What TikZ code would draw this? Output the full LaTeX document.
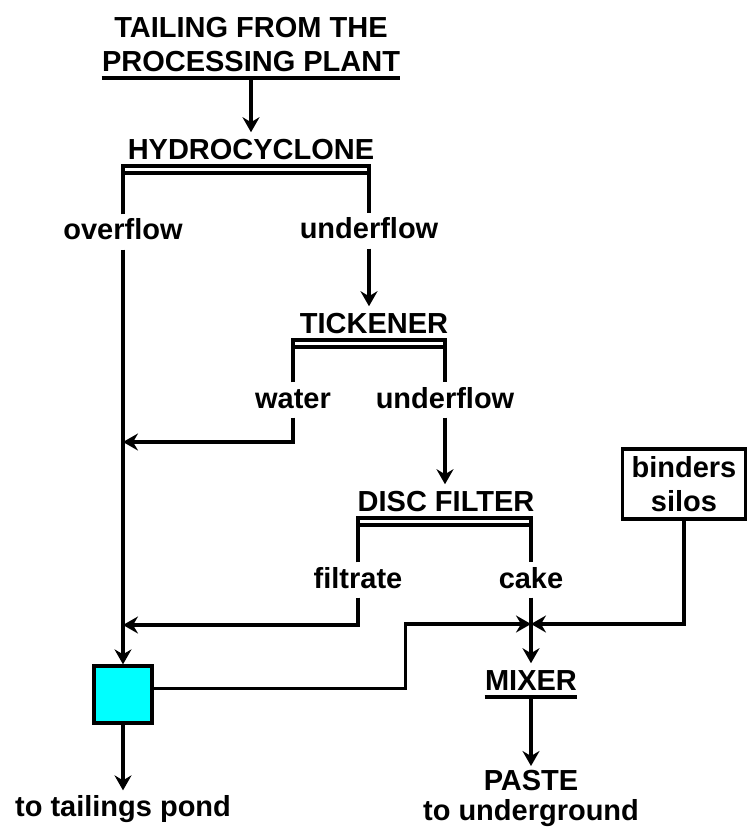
\documentclass[tikz,border=0pt]{standalone}
\usepackage{fontspec}
\setmainfont{Liberation Sans}
\usetikzlibrary{arrows.meta,calc}
\definecolor{tankcyan}{RGB}{0,255,255}

\begin{document}
\begin{tikzpicture}[x=0.02cm, y=-0.02cm,
  every node/.style={font=\fontsize{16.5}{19.3}\selectfont\bfseries},
  unit/.style={inner xsep=0pt, inner ysep=0.12cm, text height=12pt, text depth=0pt, anchor=south},
  lbl/.style={inner sep=2pt, text height=12.4pt, text depth=3.3pt},
  line/.style={line width=1.9pt},
  arr/.style={line, -{Stealth[length=0.3cm, width=0.34cm, inset=0.1cm]}},
  tank/.style={draw, line width=1.9pt, fill=tankcyan, minimum width=1.16cm, minimum height=1.14cm},
  silo/.style={draw, line width=1.9pt, minimum width=2.46cm, minimum height=1.4cm, align=center}
]
\useasboundingbox (0,0) rectangle (747,829);

% units
\node[inner xsep=0pt, inner ysep=0.12cm, anchor=south, align=center] (plant) at (251,78) {TAILING FROM THE\\PROCESSING PLANT};
\node[unit] (hydro) at (251,166) {HYDROCYCLONE};
\node[unit] (tick) at (374,340) {TICKENER};
\node[unit] (disc) at (446,518) {DISC FILTER};
\node[unit] (mixer) at (531,697) {MIXER};
\node[tank] (pond) at (123,694.5) {};
\node[silo] (silos) at (684,484) {binders\\silos};

% stream labels
\node[lbl] (overflow) at (123,232) {overflow};
\node[lbl] (underflowA) at (369,231) {underflow};
\node[lbl] (water) at (293,400) {water};
\node[lbl] (underflowB) at (445,400) {underflow};
\node[lbl] (filtrate) at (358,580) {filtrate};
\node[lbl] (cake) at (531,580) {cake};
\node[lbl] (tp) at (123,808) {to tailings pond};
\node[inner sep=2pt, align=center, anchor=north] (paste) at (531,766) {PASTE\\[-2pt]to underground};

\coordinate (wj) at (123,442);
\coordinate (fj) at (123,625);
\coordinate (mj) at (531,624);

% underlines and split bars
\draw[line] (plant.south west) -- (plant.south east);
\draw[line] (mixer.south west) -- (mixer.south east);
\draw[line] (overflow.north) -- (overflow.north |- hydro.south) -- (underflowA.north |- hydro.south) -- (underflowA.north);
\draw[line] ($(overflow.north |- hydro.south)+(0,7)$) -- ($(underflowA.north |- hydro.south)+(0,7)$);
\draw[line] (water.north) -- (water.north |- tick.south) -- (underflowB.north |- tick.south) -- (underflowB.north);
\draw[line] ($(water.north |- tick.south)+(0,7)$) -- ($(underflowB.north |- tick.south)+(0,7)$);
\draw[line] (filtrate.north) -- (filtrate.north |- disc.south) -- (cake.north |- disc.south) -- (cake.north);
\draw[line] ($(filtrate.north |- disc.south)+(0,7)$) -- ($(cake.north |- disc.south)+(0,7)$);

% flows
\draw[arr] (plant.south) -- (hydro.north);
\draw[arr] (overflow.south) -- (pond.north);
\draw[arr] (underflowA.south) -- (underflowA.south |- tick.north);
\draw[arr] (water.south) |- (wj);
\draw[arr] (underflowB.south) -- (underflowB.south |- disc.north);
\draw[arr] (filtrate.south) |- (fj);
\draw[arr] (cake.south) -- (mixer.north);
\draw[arr] ([yshift=3.4pt]pond.east) -- ++(252,0) |- (mj);
\draw[arr] (silos.south) |- (mj);
\draw[arr] (pond.south) -- (tp.north);
\draw[arr] (mixer.south) -- (paste.north);
\end{tikzpicture}
\end{document}
